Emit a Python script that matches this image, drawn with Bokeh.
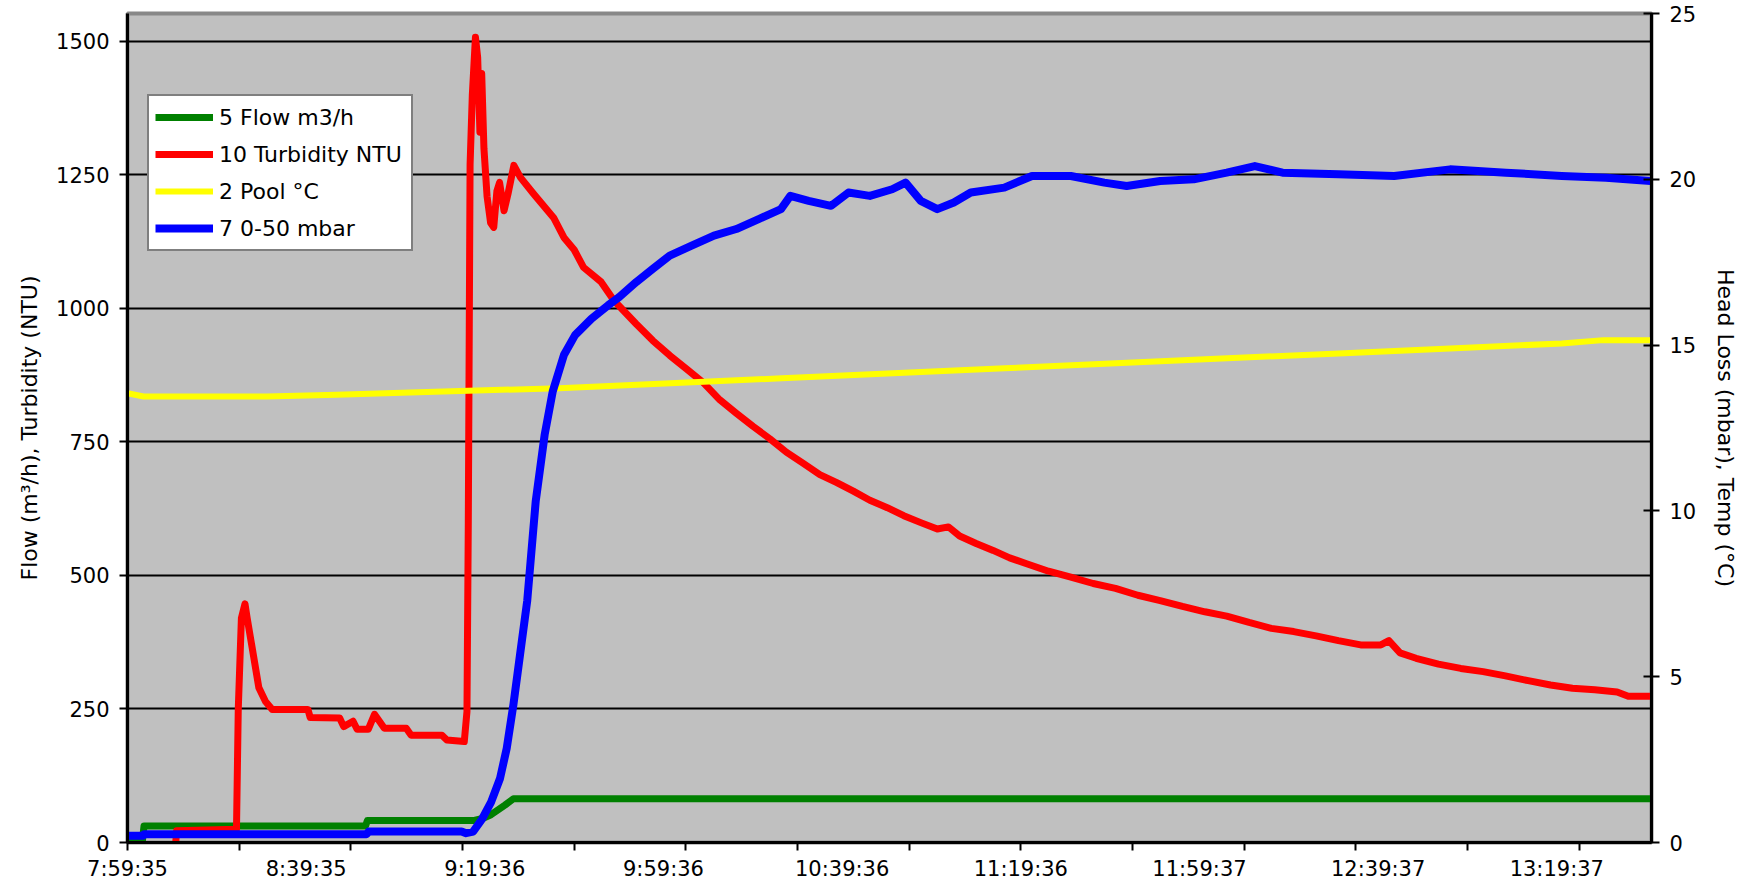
from bokeh.plotting import figure
from bokeh.models import Range1d, LinearAxis, FixedTicker, Legend, LegendItem
from bokeh.embed import file_html
from bokeh.resources import INLINE

# ---- axis labels / ticks (x in minutes since 7:59:35) ----
x_tick_labels = ["7:59:35", "8:39:35", "9:19:36", "9:59:36", "10:39:36",
                 "11:19:36", "11:59:37", "12:39:37", "13:19:37"]
x_label_minutes = [0, 40, 80, 120, 160, 200, 240, 280, 320]
x_tick_minutes = [0, 25, 50, 75, 100, 125, 150, 175, 200, 225, 250, 275, 300, 325]
x_end = 341.2
left_ticks = [0, 250, 500, 750, 1000, 1250, 1500]
left_max = 1552.4
right_ticks = [0, 5, 10, 15, 20, 25]
right_max = 25

# ---- 5 Flow m3/h (left axis) ----
flow_t = [0, 3.3, 3.7, 53.3, 53.7, 77.4, 79.5, 81.4, 84.5, 86.4, 341.2]
flow_v = [0, 0, 31, 31, 41, 41, 45, 52, 70, 82, 82]

# ---- 10 Turbidity NTU (left axis) ----
turb_t = [10.8, 11.0, 24.4, 24.8, 25.5, 26.3, 26.8, 27.4, 28.4, 29.4, 30.9, 32.4,
          40.4, 40.9, 47.5, 48.4, 50.5, 51.4, 53.9, 55.3, 56.4, 57.5, 62.4, 63.5,
          70.4, 71.5, 75.4, 76.0, 76.3, 76.7, 77.2, 77.9, 78.4, 78.9, 79.3, 79.8,
          80.5, 81.3, 82.0, 82.7, 83.3, 84.3, 85.2, 86.5, 88.0, 90.9, 95.4, 97.7,
          100.0, 102.1, 106.0, 108.9, 113.9, 117.6, 121.4, 125.1, 128.8, 132.6,
          136.3, 140.1, 143.8, 147.5, 151.3, 155.0, 158.8, 162.5, 166.2, 170.1,
          173.8, 177.6, 181.3, 183.8, 186.3, 190.0, 193.8, 197.5, 201.3, 206.2,
          211.2, 216.2, 221.2, 226.2, 231.2, 236.2, 241.2, 246.1, 251.1, 256.1,
          261.1, 266.1, 271.1, 276.1, 280.6, 282.4, 284.9, 288.5, 293.5, 298.5,
          303.5, 308.5, 313.6, 318.6, 323.5, 328.5, 333.5, 336.0, 341.0]
turb_v = [0, 22, 25, 250, 420, 447, 420, 390, 340, 290, 264, 249,
          249, 234, 233, 217, 227, 212, 212, 240, 227, 214, 214, 201,
          201, 192, 189, 245, 600, 1270, 1400, 1508, 1470, 1330, 1440, 1300,
          1210, 1160, 1152, 1220, 1236, 1183, 1215, 1268, 1245, 1215, 1170, 1133,
          1110, 1077, 1050, 1015, 971, 940, 912, 887, 862, 829,
          804, 779, 756, 731, 710, 689, 674, 658, 641, 627,
          612, 599, 587, 591, 574, 560, 547, 533, 522, 508,
          497, 485, 476, 463, 453, 442, 432, 424, 412, 401,
          395, 387, 378, 370, 370, 378, 355, 345, 334, 326,
          320, 312, 303, 295, 289, 286, 282, 274, 274]

# ---- 2 Pool °C (right axis) ----
pool_t = [0, 3.6, 31.2, 46.8, 70.7, 96.6, 121.6, 146.5, 171.4, 196.4, 221.3,
          246.2, 271.2, 296.1, 321.1, 330.4, 341.0]
pool_v = [13.55, 13.45, 13.45, 13.5, 13.6, 13.7, 13.85, 14.0, 14.15, 14.3, 14.45,
          14.6, 14.75, 14.9, 15.05, 15.15, 15.15]

# ---- 7 0-50 mbar (right axis) ----
mbar_t = [0, 3.5, 3.7, 53.5, 54.0, 74.8, 75.8, 77.4, 79.4, 81.4, 83.4, 84.9, 86.4,
          87.9, 89.5, 91.4, 93.4, 95.2, 97.7, 100.2, 103.9, 107.6, 110.1, 113.9,
          117.6, 121.4, 126.3, 131.3, 136.3, 141.3, 146.3, 148.4, 152.5, 157.5,
          161.4, 166.2, 171.2, 174.2, 177.6, 181.3, 185.0, 188.8, 196.3, 202.5,
          211.2, 218.7, 223.7, 231.2, 238.7, 246.1, 252.4, 258.6, 271.1, 283.6,
          296.1, 308.6, 321.1, 331.0, 341.0]
mbar_v = [0.2, 0.2, 0.25, 0.25, 0.33, 0.33, 0.28, 0.33, 0.71, 1.22, 1.93, 2.84, 4.16,
          5.68, 7.3, 10.3, 12.3, 13.6, 14.7, 15.3, 15.8, 16.2, 16.45, 16.9,
          17.3, 17.7, 18.0, 18.3, 18.5, 18.8, 19.1, 19.5, 19.35, 19.2,
          19.6, 19.5, 19.7, 19.9, 19.35, 19.1, 19.3, 19.6, 19.75, 20.1,
          20.1, 19.9, 19.8, 19.95, 20.0, 20.2, 20.4, 20.2, 20.15, 20.1,
          20.3, 20.2, 20.1, 20.05, 19.95]

FONT = "DejaVu Sans"

p = figure(width=1748, height=888, output_backend="svg", toolbar_location=None,
           x_range=Range1d(0, x_end), y_range=Range1d(0, left_max),
           min_border_left=127, min_border_right=97, min_border_top=13,
           min_border_bottom=46)
p.extra_y_ranges = {"right": Range1d(0, right_max)}
p.background_fill_color = "#C0C0C0"
p.border_fill_color = "white"
p.outline_line_color = "#888888"
p.outline_line_width = 4

# grid
p.xgrid.visible = False
p.ygrid.ticker = FixedTicker(ticks=left_ticks)
p.ygrid.grid_line_color = "black"
p.ygrid.grid_line_width = 2

# x axis
xa = p.xaxis[0]
xa.ticker = FixedTicker(ticks=x_label_minutes, minor_ticks=x_tick_minutes)
xa.major_label_overrides = {m: s for m, s in zip(x_label_minutes, x_tick_labels)}
xa.major_tick_line_color = None
xa.major_tick_out = 8
xa.major_tick_in = 0
xa.minor_tick_line_color = "black"
xa.minor_tick_line_width = 2
xa.minor_tick_out = 8
xa.minor_tick_in = 0
xa.major_label_standoff = 6
xa.axis_line_color = "black"
xa.axis_line_width = 3
xa.major_label_text_font = FONT
xa.major_label_text_font_size = "21px"
xa.major_label_text_color = "black"

# left y axis
ya = p.yaxis[0]
ya.ticker = FixedTicker(ticks=left_ticks)
ya.axis_label = "Flow (m\u00b3/h), Turbidity (NTU)"
ya.axis_label_text_font = FONT
ya.axis_label_text_font_size = "22px"
ya.axis_label_text_font_style = "normal"
ya.axis_label_text_color = "black"
ya.axis_label_standoff = 11
ya.major_label_text_font = FONT
ya.major_label_text_font_size = "21px"
ya.major_label_text_color = "black"
ya.major_label_standoff = 10
ya.major_tick_out = 8
ya.major_tick_in = 0
ya.major_tick_line_width = 2
ya.major_tick_line_color = "black"
ya.minor_tick_line_color = None
ya.axis_line_color = "black"
ya.axis_line_width = 3

# right y axis
ra = LinearAxis(y_range_name="right", ticker=FixedTicker(ticks=right_ticks))
ra.axis_label = "Head Loss (mbar), Temp (\u00b0C)"
ra.axis_label_text_font = FONT
ra.axis_label_text_font_size = "22px"
ra.axis_label_text_font_style = "normal"
ra.axis_label_text_color = "black"
ra.axis_label_standoff = 14
ra.major_label_text_font = FONT
ra.major_label_text_font_size = "21px"
ra.major_label_text_color = "black"
ra.major_label_standoff = 10
ra.major_tick_out = 8
ra.major_tick_in = 8
ra.major_tick_line_width = 2
ra.major_tick_line_color = "black"
ra.minor_tick_line_color = None
ra.axis_line_color = "black"
ra.axis_line_width = 3
p.add_layout(ra, "right")

# series
r_flow = p.line(flow_t, flow_v, line_color="#008000", line_width=7, line_join="round")
r_turb = p.line(turb_t, turb_v, line_color="#FF0000", line_width=7, line_join="round")
r_pool = p.line(pool_t, pool_v, line_color="#FFFF00", line_width=6, line_join="round",
                y_range_name="right")
r_mbar = p.line(mbar_t, mbar_v, line_color="#0000FF", line_width=8, line_join="round",
                y_range_name="right")

legend = Legend(items=[
    LegendItem(label="5 Flow m3/h", renderers=[r_flow]),
    LegendItem(label="10 Turbidity NTU", renderers=[r_turb]),
    LegendItem(label="2 Pool \u00b0C", renderers=[r_pool]),
    LegendItem(label="7 0-50 mbar", renderers=[r_mbar]),
], location=(20, 591))
legend.border_line_color = "black"
legend.border_line_width = 2
legend.background_fill_color = "white"
legend.background_fill_alpha = 1
legend.padding = 6
legend.spacing = 7
legend.margin = 0
legend.glyph_width = 58
legend.glyph_height = 30
legend.label_height = 30
legend.label_width = 186
legend.label_standoff = 6
legend.label_text_font = FONT
legend.label_text_font_size = "22px"
legend.label_text_color = "black"
p.add_layout(legend)

open("out.html", "w").write(file_html(p, INLINE))
